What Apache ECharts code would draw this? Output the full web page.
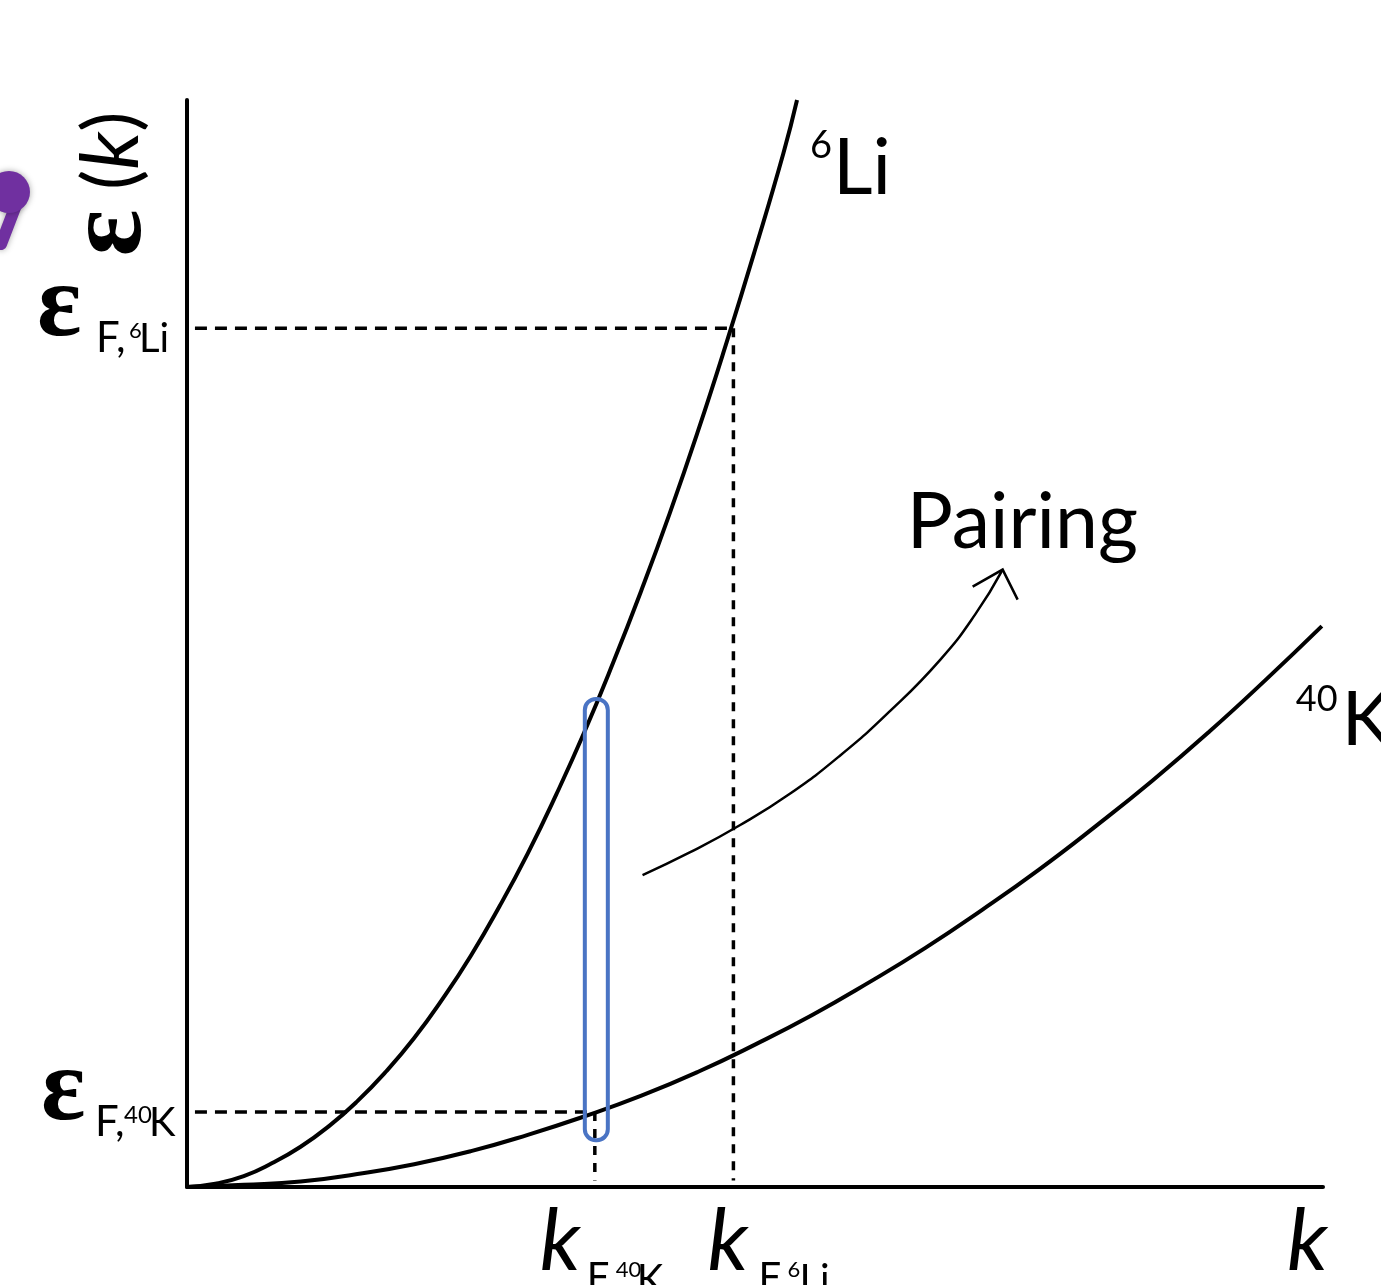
<!DOCTYPE html>
<html><head><meta charset="utf-8">
<script src="https://cdn.jsdelivr.net/npm/echarts@6/dist/echarts.min.js"></script>
<style>html,body{margin:0;padding:0;background:#fff}#c{width:1381px;height:1285px}</style>
</head><body><div id="c"></div>
<script>
// ---- data (arbitrary units) ----
const li6K = [0, 0.25, 0.5, 0.75, 1.0, 1.25, 1.5, 1.75, 2.0, 2.25, 2.5, 2.75, 3.0, 3.25, 3.5, 3.75, 4.0, 4.25, 4.5, 4.75, 5.0, 5.25, 5.37];
const li6E = [0, 0.03, 0.10, 0.22, 0.37, 0.56, 0.79, 1.06, 1.37, 1.73, 2.13, 2.58, 3.07, 3.61, 4.19, 4.82, 5.49, 6.20, 6.96, 7.77, 8.62, 9.51, 10.0];
const k40K = [0, 0.5, 1.0, 1.5, 2.0, 2.5, 3.0, 3.5, 4.0, 4.5, 5.0, 5.5, 6.0, 6.5, 7.0, 7.5, 8.0, 8.5, 9.0, 9.5, 9.99];
const k40E = [0, 0.02, 0.05, 0.12, 0.21, 0.33, 0.48, 0.65, 0.84, 1.06, 1.31, 1.58, 1.88, 2.20, 2.55, 2.92, 3.32, 3.74, 4.19, 4.67, 5.16];
const fermiK = [3.59, 4.81];   // kF(40K), kF(6Li)
const fermiE = [0.69, 7.90];   // εF(40K), εF(6Li)
const pairBoxE = [0.43, 4.49]; // blue box bottom / top energy at kF(40K)
const pairArrowK = [4.01, 4.43, 4.87, 5.31, 5.75, 6.19, 6.63, 6.94, 7.18];
const pairArrowE = [2.87, 3.08, 3.33, 3.62, 3.97, 4.38, 4.85, 5.27, 5.68];
const axisMaxK = 10, axisMaxE = 10;

const zip = (a, b) => a.map((v, i) => [v, b[i]]);
const chart = echarts.init(document.getElementById('c'));
const black = '#000';
const lineOpts = { symbol: 'none', silent: true, animation: false };

chart.setOption({
  animation: false,
  backgroundColor: '#fff',
  grid: { left: 187, top: 100, right: 58, bottom: 98 },
  xAxis: { type: 'value', min: 0, max: axisMaxK,
    axisLine: { lineStyle: { color: black, width: 4 } },
    axisTick: { show: false }, axisLabel: { show: false }, splitLine: { show: false } },
  yAxis: { type: 'value', min: 0, max: axisMaxE,
    axisLine: { show: true, lineStyle: { color: black, width: 4 } },
    axisTick: { show: false }, axisLabel: { show: false }, splitLine: { show: false } },
  series: [
    Object.assign({ type: 'line', name: 'h6Li', z: 1,
      data: [[0.07, fermiE[1]], [fermiK[1], fermiE[1]]],
      lineStyle: { color: black, width: 3.5, type: [12, 8] } }, lineOpts),
    Object.assign({ type: 'line', name: 'v6Li', z: 1,
      data: [[fermiK[1], fermiE[1]], [fermiK[1], 0.06]],
      lineStyle: { color: black, width: 3.5, type: [9, 8] } }, lineOpts),
    Object.assign({ type: 'line', name: 'h40K', z: 1,
      data: [[0.07, fermiE[0]], [fermiK[0], fermiE[0]]],
      lineStyle: { color: black, width: 3.5, type: [12, 8] } }, lineOpts),
    Object.assign({ type: 'line', name: 'v40K', z: 1,
      data: [[fermiK[0], fermiE[0]], [fermiK[0], 0.06]],
      lineStyle: { color: black, width: 3.5, type: [9, 8] } }, lineOpts),
    Object.assign({ type: 'line', name: '6Li', z: 3, smooth: 0.5,
      data: zip(li6K, li6E), lineStyle: { color: black, width: 4 } }, lineOpts),
    Object.assign({ type: 'line', name: '40K', z: 3, smooth: 0.5,
      data: zip(k40K, k40E), lineStyle: { color: black, width: 4 } }, lineOpts),
    Object.assign({ type: 'line', name: 'Pairing', z: 3, smooth: 0.5,
      data: zip(pairArrowK, pairArrowE), lineStyle: { color: black, width: 2.5 } }, lineOpts),
    { type: 'custom', name: 'arrowHead', z: 4, silent: true,
      data: [[pairArrowK[pairArrowK.length - 1], pairArrowE[pairArrowE.length - 1]]],
      renderItem: (params, api) => {
        const p = api.coord([api.value(0), api.value(1)]);
        return { type: 'polyline',
          shape: { points: [[p[0] - 30, p[1] + 17], [p[0], p[1]], [p[0] + 15, p[1] + 30]] },
          style: { stroke: black, lineWidth: 2.5, fill: null } };
      } },
    { type: 'custom', name: 'pairBox', z: 5, silent: true,
      data: [[fermiK[0], pairBoxE[0], pairBoxE[1]]],
      encode: { x: 0, y: [1, 2] },
      renderItem: (params, api) => {
        const t = api.coord([api.value(0), api.value(2)]);
        const b = api.coord([api.value(0), api.value(1)]);
        return { type: 'rect',
          shape: { x: t[0] - 10, y: t[1], width: 23, height: b[1] - t[1], r: 11 },
          style: { fill: null, stroke: '#4a74c4', lineWidth: 4 } };
      } }
  ]
});

// ---- labels ----
const px = (k, e) => chart.convertToPixel({ gridIndex: 0 }, [k, e]);
const SANS = 'Lato', SERIF = 'Liberation Serif';
function t(x, y, text, size, family, extra) {
  return { type: 'text', x: x, y: y, silent: true, z: 10,
    style: Object.assign({ text: text, fontSize: size, fontFamily: family, fill: black,
      align: 'left', verticalAlign: 'middle' }, extra || {}) };
}
const EPS = { fontWeight: 'bold' };
const g = [];
// y-axis Fermi energies
const aLi = px(0, fermiE[1]);
g.push(t(aLi[0] - 150, aLi[1] - 20, 'ε', 104, SERIF, EPS));
g.push(t(aLi[0] - 91, aLi[1] + 10, 'F,', 42, SANS));
g.push(t(aLi[0] - 58, aLi[1] + 3, '6', 22, SANS));
g.push(t(aLi[0] - 48, aLi[1] + 11, 'Li', 40, SANS));
const aK = px(0, fermiE[0]);
g.push(t(aK[0] - 146, aK[1] - 20, 'ε', 104, SERIF, EPS));
g.push(t(aK[0] - 92, aK[1] + 10, 'F,', 42, SANS));
g.push(t(aK[0] - 63, aK[1] + 3, '40', 24, SANS));
g.push(t(aK[0] - 38, aK[1] + 11, 'K', 40, SANS));
// x-axis Fermi momenta
const bK = px(fermiK[0], 0);
g.push(t(bK[0] - 55, bK[1] + 55, 'k', 86, SANS, { fontStyle: 'italic' }));
g.push(t(bK[0] - 8, bK[1] + 91, 'F', 40, SANS));
g.push(t(bK[0] + 21, bK[1] + 83, '40', 22, SANS));
g.push(t(bK[0] + 42, bK[1] + 93, 'K', 40, SANS));
const bLi = px(fermiK[1], 0);
g.push(t(bLi[0] - 26, bLi[1] + 55, 'k', 86, SANS, { fontStyle: 'italic' }));
g.push(t(bLi[0] + 25, bLi[1] + 91, 'F', 40, SANS));
g.push(t(bLi[0] + 54, bLi[1] + 83, '6', 22, SANS));
g.push(t(bLi[0] + 66, bLi[1] + 93, 'Li', 40, SANS));
// axis names
const xEnd = px(axisMaxK, 0);
g.push(t(xEnd[0] - 36, xEnd[1] + 55, 'k', 86, SANS, { fontStyle: 'italic' }));
const yEnd = px(0, axisMaxE);
g.push({ type: 'text', x: yEnd[0] - 75, y: yEnd[1] + 84, rotation: Math.PI / 2, silent: true, z: 10,
  style: { text: '{e|ε} {b|(}{k|k}{b|)}', fontSize: 76, fontFamily: SANS, fill: black,
    align: 'center', verticalAlign: 'middle',
    rich: { e: { fontSize: 110, fontFamily: SERIF, fontWeight: 'bold', fill: black },
            b: { fontSize: 76, fontFamily: SANS, fill: black },
            k: { fontSize: 80, fontFamily: SANS, fontStyle: 'italic', fill: black } } } });
// curve names
const cLi = px(li6K[li6K.length - 1], li6E[li6E.length - 1]);
g.push(t(cLi[0] + 13, cLi[1] + 46, '6', 38, SANS));
g.push(t(cLi[0] + 36, cLi[1] + 69, 'Li', 77, SANS));
const cK = px(k40K[k40K.length - 1], k40E[k40E.length - 1]);
g.push(t(cK[0] - 26, cK[1] + 73, '40', 36, SANS));
g.push(t(cK[0] + 20, cK[1] + 95, 'K', 75, SANS));
// pairing label
const pA = px(pairArrowK[pairArrowK.length - 1], pairArrowE[pairArrowE.length - 1]);
g.push(t(pA[0] - 96, pA[1] - 46, 'Pairing', 77, SANS));
// purple marker at top-left
g.push({ type: 'line', silent: true, z: 9,
  shape: { x1: 16, y1: 205, x2: 1, y2: 244 },
  style: { stroke: '#7030a0', lineWidth: 12, lineCap: 'round', shadowBlur: 6, shadowColor: 'rgba(0,0,0,0.35)' } });
g.push({ type: 'circle', silent: true, z: 9,
  shape: { cx: 9, cy: 192, r: 21 },
  style: { fill: '#7030a0', shadowBlur: 6, shadowColor: 'rgba(0,0,0,0.35)' } });
chart.setOption({ graphic: g });
</script>
</body></html>
